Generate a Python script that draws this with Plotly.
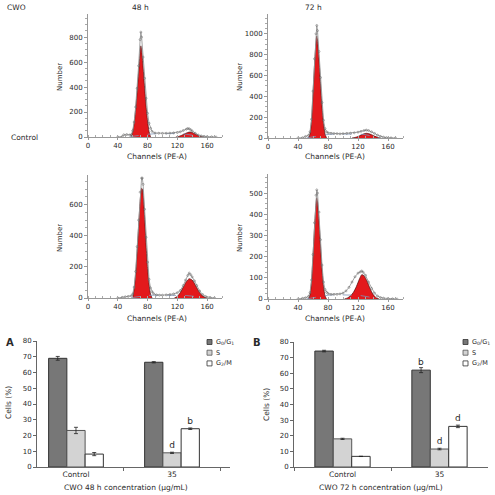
import plotly.graph_objects as go

W = H = 495

# ---------------- histogram data (channel, count) ----------------
# 48 h control
ch1 = [40,46,48,52,56,58,60,62,64,66,68,70,71,72,74,76,78,80,82,84,86,90,95,100,105,110,115,120,124,128,132,134,136,138,140,144,148,152,156,160,166,172]
n1 = [0,4,18,20,16,18,50,120,240,390,570,780,840,800,640,470,310,190,110,70,45,32,30,29,30,31,33,36,42,52,62,68,66,58,48,30,16,9,5,3,2,0]
g1c1 = [58,60,62,64,66,68,70,71,72,74,76,78,80,82,84]
g1v1 = [0,40,110,220,360,520,680,730,700,560,400,250,130,45,0]
g2c1 = [118,122,126,130,134,137,140,144,148,152,156]
g2v1 = [0,5,14,26,36,40,36,24,12,4,0]
sc1 = [56,62,70,80,90,100,110,120,128,136,144,150]
sv1 = [2,8,15,22,26,28,28,28,26,20,10,2]

# 72 h control
ch2 = [40,46,50,54,56,58,60,62,64,65,66,68,70,72,74,76,78,80,84,88,92,96,100,105,110,115,120,124,128,131,134,138,142,146,150,154,158,164,170]
n2 = [0,3,15,25,60,180,450,760,1000,1080,1030,830,580,340,170,90,60,50,45,42,42,40,42,44,46,50,56,64,72,76,72,60,44,28,15,8,4,2,0]
g1c2 = [54,56,58,60,62,64,65,66,68,70,72,74,76,78]
g1v2 = [0,40,160,420,700,920,980,940,760,520,300,140,40,0]
g2c2 = [112,116,120,124,128,131,134,138,142,146,150]
g2v2 = [0,5,14,28,40,45,42,32,18,7,0]
sc2 = [52,60,70,80,90,100,110,120,128,136,144,150]
sv2 = [2,12,25,34,38,40,40,38,34,26,12,2]

# 48 h, 35 ug/mL
ch3 = [40,46,50,54,58,60,62,64,66,68,70,72,73,74,76,78,80,82,84,86,88,92,96,100,105,110,115,120,124,128,131,134,136,138,140,143,146,150,154,158,164,170]
n3 = [0,4,8,10,14,25,70,170,330,500,680,770,770,730,570,390,230,120,65,40,28,20,18,18,20,22,26,34,48,80,115,145,160,150,135,110,80,45,22,10,4,0]
g1c3 = [60,62,64,66,68,70,72,73,74,76,78,80,82,84,86]
g1v3 = [0,60,150,300,460,620,705,700,670,520,340,190,90,25,0]
g2c3 = [116,120,124,128,132,136,140,144,148,152,156,160]
g2v3 = [0,10,35,70,105,124,115,85,50,22,6,0]
sc3 = [58,66,76,86,96,106,116,124,132,140,148,154]
sv3 = [2,8,14,18,18,18,18,18,16,12,6,1]

# 72 h, 35 ug/mL
ch4 = [40,46,50,54,56,58,60,62,64,65,66,68,70,72,74,76,78,80,84,88,92,96,100,104,108,112,116,120,123,125,127,130,134,138,142,146,150,154,160,166,172]
n4 = [0,3,6,12,30,90,210,360,490,515,500,410,280,160,80,45,32,26,22,22,22,24,28,38,55,80,105,122,128,132,126,112,80,50,28,14,7,4,2,1,0]
g1c4 = [54,56,58,60,62,64,65,66,68,70,72,74,76,78]
g1v4 = [0,20,80,200,340,450,478,460,370,250,140,60,15,0]
g2c4 = [102,106,110,114,118,122,125,128,132,136,140,144,148]
g2v4 = [0,5,15,32,60,95,115,110,85,50,22,6,0]
sc4 = [52,60,70,80,90,100,108,116,124,132,140,146]
sv4 = [1,6,14,18,20,20,20,18,16,12,6,1]

hist_yticks = [[0,200,400,600,800], [0,200,400,600,800,1000], [0,200,400,600], [0,100,200,300,400,500]]
hist_ymax = [985, 1190, 790, 590]
hist_xticks = [0,40,80,120,160]

# ---------------- bar data ----------------
groups = ["Control", "35"]
phase_names = ["G<sub>0</sub>/G<sub>1</sub>", "S", "G<sub>2</sub>/M"]
a_g0 = [69.0, 66.5]; a_g0_err = [1.2, 0.4]; a_g0_sig = ["", ""]
a_s = [23.2, 9.0];   a_s_err = [2.0, 0.4];   a_s_sig = ["", "d"]
a_g2 = [8.2, 24.3];  a_g2_err = [1.0, 0.5];  a_g2_sig = ["", "b"]
b_g0 = [74.2, 62.0]; b_g0_err = [0.5, 1.6]; b_g0_sig = ["", "b"]
b_s = [18.0, 11.5];  b_s_err = [0.4, 0.5];  b_s_sig = ["", "d"]
b_g2 = [6.8, 26.0];  b_g2_err = [0.1, 0.8]; b_g2_sig = ["", "d"]
bar_yticks = [0,10,20,30,40,50,60,70,80]

# ---------------- styles ----------------
FONT = "DejaVu Sans"
TXT = "#2a2a2a"
RED = "#e3191c"
bar_fill = ["#777777", "#d3d3d3", "#ffffff"]
bar_line = ["#333333", "#555555", "#333333"]

def px(x):
    return x / W

def py(y):
    return 1 - y / H

fig = go.Figure()

hist_sets = [
    (ch1, n1, g1c1, g1v1, g2c1, g2v1, sc1, sv1),
    (ch2, n2, g1c2, g1v2, g2c2, g2v2, sc2, sv2),
    (ch3, n3, g1c3, g1v3, g2c3, g2v3, sc3, sv3),
    (ch4, n4, g1c4, g1v4, g2c4, g2v4, sc4, sv4),
]
for i, (ch, n, gc1, gv1, gc2, gv2, sc, sv) in enumerate(hist_sets):
    xa = "x" if i == 0 else f"x{i+1}"
    ya = "y" if i == 0 else f"y{i+1}"
    for gc, gv in ((gc1, gv1), (gc2, gv2)):
        fig.add_trace(go.Scatter(x=gc, y=gv, mode="lines", fill="tozeroy",
                                 fillcolor=RED, line=dict(color="#4a1010", width=0.7, shape="spline", smoothing=0.6),
                                 xaxis=xa, yaxis=ya, showlegend=False, hoverinfo="skip"))
    fig.add_trace(go.Scatter(x=sc, y=sv, mode="lines",
                             line=dict(color="#7d93b5", width=0.8, dash="dash"),
                             xaxis=xa, yaxis=ya, showlegend=False, hoverinfo="skip"))
    fig.add_trace(go.Scatter(x=ch, y=n, mode="lines+markers",
                             line=dict(color="#999999", width=0.9),
                             marker=dict(symbol="circle-open", size=2, color="#666666", line=dict(width=0.5)),
                             xaxis=xa, yaxis=ya, showlegend=False, hoverinfo="skip"))

bar_sets = [
    ((a_g0, a_g0_err, a_g0_sig), (a_s, a_s_err, a_s_sig), (a_g2, a_g2_err, a_g2_sig)),
    ((b_g0, b_g0_err, b_g0_sig), (b_s, b_s_err, b_s_sig), (b_g2, b_g2_err, b_g2_sig)),
]
for j, bs in enumerate(bar_sets):
    xa = f"x{5+j}"
    ya = f"y{5+j}"
    for k, (vals, errs, sig) in enumerate(bs):
        fig.add_trace(go.Bar(x=groups, y=vals, name=phase_names[k],
                             marker=dict(color=bar_fill[k], line=dict(color=bar_line[k], width=1)),
                             error_y=dict(type="data", array=errs, color="#222222", thickness=0.8, width=2),
                             text=sig, textposition="outside", cliponaxis=False,
                             constraintext="none",
                             textfont=dict(family=FONT, size=9, color=TXT),
                             xaxis=xa, yaxis=ya, showlegend=False, hoverinfo="skip"))

# domains in pixels
hist_dom = [((88, 222), (14, 137)), ((268, 403), (14, 138)), ((88, 222), (175, 298)), ((268, 403), (174, 299))]
bar_dom = [((37, 230), (341, 467)), ((294, 488), (342, 467))]

layout = dict(
    width=W, height=H, margin=dict(l=0, r=0, t=0, b=0, pad=0, autoexpand=False),
    paper_bgcolor="white", plot_bgcolor="white",
    font=dict(family=FONT, size=7, color=TXT),
    barmode="group", bargap=0.43, bargroupgap=0.0,
    showlegend=False,
)

tickfont = dict(family=FONT, size=7, color=TXT)
for i, ((x0, x1), (y0, y1)) in enumerate(hist_dom):
    sx = "" if i == 0 else str(i + 1)
    layout[f"xaxis{sx}"] = dict(domain=[px(x0), px(x1)], anchor=f"y{sx}", range=[0, 180],
                                tickvals=hist_xticks, ticks="outside", ticklen=2, tickcolor="#999",
                                minor=dict(dtick=10, ticks="inside", ticklen=2, tickcolor="#aaa"),
                                showline=True, linecolor="#999", linewidth=1,
                                showgrid=False, zeroline=False, tickfont=tickfont)
    layout[f"yaxis{sx}"] = dict(domain=[py(y1), py(y0)], anchor=f"x{sx}", range=[0, hist_ymax[i]],
                                tickvals=hist_yticks[i], ticks="outside", ticklen=3, tickcolor="#999",
                                minor=dict(dtick=hist_yticks[i][1] / 4, ticks="outside", ticklen=2, tickcolor="#aaa"),
                                showline=True, linecolor="#999", linewidth=1,
                                showgrid=False, zeroline=False, tickfont=tickfont)

bar_xrange = [[-0.406, 1.604], [-0.5, 1.5]]
for j, ((x0, x1), (y0, y1)) in enumerate(bar_dom):
    s = str(5 + j)
    layout[f"xaxis{s}"] = dict(domain=[px(x0), px(x1)], anchor=f"y{s}", type="category",
                               range=bar_xrange[j], ticks="outside", ticklen=3, tickson="boundaries",
                               tickcolor="#666", showline=True, linecolor="#666", linewidth=1,
                               showgrid=False, zeroline=False, tickfont=dict(family=FONT, size=7.5, color=TXT))
    layout[f"yaxis{s}"] = dict(domain=[py(y1), py(y0)], anchor=f"x{s}", range=[0, 80],
                               tickvals=bar_yticks, ticks="outside", ticklen=3, tickcolor="#666",
                               showline=True, linecolor="#666", linewidth=1,
                               showgrid=False, zeroline=False, tickfont=tickfont)

fig.update_layout(**layout)

ann = []
def text(x, y, t, size=7.5, angle=0, xanchor="center", bold=False):
    if bold:
        t = f"<b>{t}</b>"
    ann.append(dict(x=px(x), y=py(y), xref="paper", yref="paper", text=t, showarrow=False,
                    textangle=angle, xanchor=xanchor, yanchor="middle",
                    font=dict(family=FONT, size=size, color=TXT)))

text(5, 8, "CWO", xanchor="left")
text(140, 8, "48 h")
text(313, 8, "72 h")
text(9, 137, "Control", xanchor="left")
for (nx, ny) in [(60, 77), (240, 77), (60, 238), (240, 238)]:
    text(nx, ny, "Number", size=7, angle=-90)
for (cx, cy) in [(157, 156), (335, 156), (157, 318), (335, 318)]:
    text(cx, cy, "Channels (PE-A)")
text(4, 342, "A", size=10, xanchor="left", bold=True)
text(251, 342, "B", size=10, xanchor="left", bold=True)
text(8, 403, "Cells (%)", angle=-90)
text(266, 405, "Cells (%)", angle=-90)
text(126, 487, "CWO 48 h concentration (μg/mL)")
text(381, 487, "CWO 72 h concentration (μg/mL)")

# legends
shapes = []
for (lx, ly0) in [(207, 342), (463, 342)]:
    for k in range(3):
        cy = ly0 + k * 10.7
        shapes.append(dict(type="rect", xref="paper", yref="paper",
                           x0=px(lx), x1=px(lx + 5), y0=py(cy + 2.5), y1=py(cy - 2.5),
                           fillcolor=bar_fill[k], line=dict(color=bar_line[k], width=0.8)))
        text(lx + 7, cy, phase_names[k], size=6.5, xanchor="left")

fig.update_layout(annotations=ann, shapes=shapes)
fig.write_html("out.html", config={"displayModeBar": False},
               post_script="document.body.style.margin='0';document.body.style.padding='0';")
